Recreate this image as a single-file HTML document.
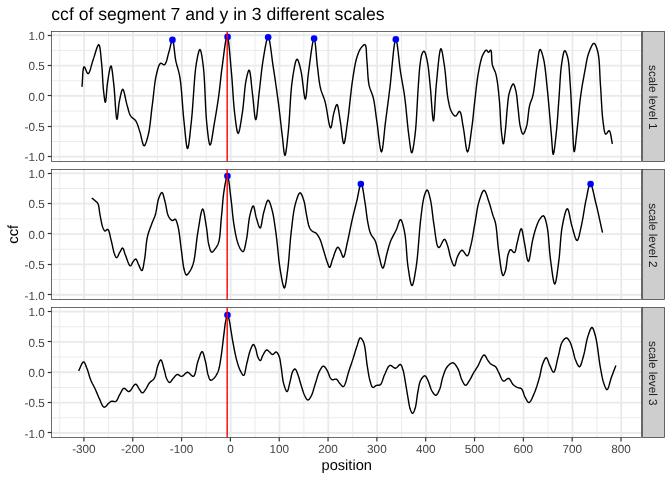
<!DOCTYPE html><html><head><meta charset="utf-8"><style>html,body{margin:0;padding:0;background:#fff}svg{display:block;will-change:transform}text{font-family:"Liberation Sans",sans-serif;text-rendering:geometricPrecision}</style></head><body>
<svg width="672" height="480" viewBox="0 0 672 480">
<rect width="672" height="480" fill="#fff"/>
<line x1="51.4" x2="642.1" y1="141.48" y2="141.48" stroke="#EBEBEB" stroke-width="1.0"/>
<line x1="51.4" x2="642.1" y1="111.12" y2="111.12" stroke="#EBEBEB" stroke-width="1.0"/>
<line x1="51.4" x2="642.1" y1="80.78" y2="80.78" stroke="#EBEBEB" stroke-width="1.0"/>
<line x1="51.4" x2="642.1" y1="50.42" y2="50.42" stroke="#EBEBEB" stroke-width="1.0"/>
<line x1="59.76" x2="59.76" y1="31.4" y2="161.3" stroke="#EBEBEB" stroke-width="1.0"/>
<line x1="108.58" x2="108.58" y1="31.4" y2="161.3" stroke="#EBEBEB" stroke-width="1.0"/>
<line x1="157.41" x2="157.41" y1="31.4" y2="161.3" stroke="#EBEBEB" stroke-width="1.0"/>
<line x1="206.24" x2="206.24" y1="31.4" y2="161.3" stroke="#EBEBEB" stroke-width="1.0"/>
<line x1="255.06" x2="255.06" y1="31.4" y2="161.3" stroke="#EBEBEB" stroke-width="1.0"/>
<line x1="303.89" x2="303.89" y1="31.4" y2="161.3" stroke="#EBEBEB" stroke-width="1.0"/>
<line x1="352.72" x2="352.72" y1="31.4" y2="161.3" stroke="#EBEBEB" stroke-width="1.0"/>
<line x1="401.54" x2="401.54" y1="31.4" y2="161.3" stroke="#EBEBEB" stroke-width="1.0"/>
<line x1="450.37" x2="450.37" y1="31.4" y2="161.3" stroke="#EBEBEB" stroke-width="1.0"/>
<line x1="499.20" x2="499.20" y1="31.4" y2="161.3" stroke="#EBEBEB" stroke-width="1.0"/>
<line x1="548.03" x2="548.03" y1="31.4" y2="161.3" stroke="#EBEBEB" stroke-width="1.0"/>
<line x1="596.85" x2="596.85" y1="31.4" y2="161.3" stroke="#EBEBEB" stroke-width="1.0"/>
<line x1="51.4" x2="642.1" y1="156.65" y2="156.65" stroke="#E9E9E9" stroke-width="1.8"/>
<line x1="51.4" x2="642.1" y1="126.30" y2="126.30" stroke="#E9E9E9" stroke-width="1.8"/>
<line x1="51.4" x2="642.1" y1="95.95" y2="95.95" stroke="#E9E9E9" stroke-width="1.8"/>
<line x1="51.4" x2="642.1" y1="65.60" y2="65.60" stroke="#E9E9E9" stroke-width="1.8"/>
<line x1="51.4" x2="642.1" y1="35.25" y2="35.25" stroke="#E9E9E9" stroke-width="1.8"/>
<line x1="84.17" x2="84.17" y1="31.4" y2="161.3" stroke="#E9E9E9" stroke-width="1.8"/>
<line x1="133.00" x2="133.00" y1="31.4" y2="161.3" stroke="#E9E9E9" stroke-width="1.8"/>
<line x1="181.82" x2="181.82" y1="31.4" y2="161.3" stroke="#E9E9E9" stroke-width="1.8"/>
<line x1="230.65" x2="230.65" y1="31.4" y2="161.3" stroke="#E9E9E9" stroke-width="1.8"/>
<line x1="279.48" x2="279.48" y1="31.4" y2="161.3" stroke="#E9E9E9" stroke-width="1.8"/>
<line x1="328.30" x2="328.30" y1="31.4" y2="161.3" stroke="#E9E9E9" stroke-width="1.8"/>
<line x1="377.13" x2="377.13" y1="31.4" y2="161.3" stroke="#E9E9E9" stroke-width="1.8"/>
<line x1="425.96" x2="425.96" y1="31.4" y2="161.3" stroke="#E9E9E9" stroke-width="1.8"/>
<line x1="474.78" x2="474.78" y1="31.4" y2="161.3" stroke="#E9E9E9" stroke-width="1.8"/>
<line x1="523.61" x2="523.61" y1="31.4" y2="161.3" stroke="#E9E9E9" stroke-width="1.8"/>
<line x1="572.44" x2="572.44" y1="31.4" y2="161.3" stroke="#E9E9E9" stroke-width="1.8"/>
<line x1="621.27" x2="621.27" y1="31.4" y2="161.3" stroke="#E9E9E9" stroke-width="1.8"/>
<path d="M81.95,86.90 L82.19,84.13 L82.38,80.98 L82.55,77.68 L82.74,74.46 L82.96,71.54 L83.25,69.14 L83.63,67.48 L84.15,66.80 L84.55,67.04 L85.00,67.81 L85.50,68.92 L86.01,70.21 L86.55,71.51 L87.08,72.64 L87.60,73.43 L88.10,73.70 L88.75,73.25 L89.38,72.12 L90.01,70.45 L90.63,68.42 L91.25,66.17 L91.87,63.87 L92.51,61.66 L93.15,59.70 L93.85,57.64 L94.59,55.26 L95.35,52.75 L96.11,50.30 L96.84,48.09 L97.54,46.29 L98.18,45.10 L98.75,44.70 L99.28,45.27 L99.73,46.73 L100.12,48.90 L100.46,51.57 L100.77,54.54 L101.05,57.64 L101.32,60.66 L101.60,63.40 L101.90,66.53 L102.15,69.88 L102.37,73.35 L102.56,76.87 L102.75,80.34 L102.95,83.70 L103.18,86.84 L103.45,89.70 L103.66,91.67 L103.89,93.77 L104.13,95.88 L104.37,97.87 L104.62,99.63 L104.87,101.04 L105.11,101.97 L105.35,102.30 L105.63,101.69 L105.89,100.04 L106.14,97.60 L106.39,94.62 L106.65,91.34 L106.93,88.01 L107.25,84.88 L107.60,82.20 L107.96,79.85 L108.37,77.23 L108.79,74.51 L109.24,71.89 L109.69,69.53 L110.13,67.63 L110.55,66.36 L110.95,65.90 L111.34,66.40 L111.71,67.75 L112.07,69.79 L112.42,72.34 L112.76,75.21 L113.10,78.24 L113.42,81.24 L113.75,84.05 L114.19,88.38 L114.60,93.69 L115.00,99.50 L115.38,105.34 L115.76,110.72 L116.15,115.16 L116.54,118.18 L116.95,119.30 L117.24,118.74 L117.52,117.19 L117.80,114.91 L118.08,112.13 L118.38,109.10 L118.70,106.05 L119.05,103.24 L119.45,100.90 L119.81,99.15 L120.19,97.25 L120.59,95.32 L121.01,93.47 L121.44,91.82 L121.88,90.50 L122.31,89.62 L122.75,89.30 L123.25,89.77 L123.77,91.05 L124.29,92.93 L124.82,95.24 L125.35,97.76 L125.88,100.31 L126.42,102.69 L126.95,104.70 L127.39,106.23 L127.79,107.75 L128.19,109.27 L128.59,110.74 L129.02,112.16 L129.49,113.51 L130.03,114.76 L130.65,115.90 L131.22,116.68 L131.85,117.34 L132.53,117.93 L133.23,118.48 L133.94,119.03 L134.62,119.62 L135.27,120.28 L135.85,121.05 L136.50,122.18 L137.08,123.43 L137.61,124.77 L138.09,126.18 L138.56,127.64 L139.01,129.13 L139.47,130.62 L139.95,132.10 L140.48,133.92 L141.00,136.05 L141.51,138.31 L142.02,140.54 L142.53,142.58 L143.04,144.24 L143.56,145.37 L144.10,145.80 L144.61,145.53 L145.14,144.75 L145.68,143.57 L146.23,142.06 L146.77,140.34 L147.29,138.49 L147.79,136.61 L148.25,134.80 L148.92,131.76 L149.50,128.32 L150.02,124.59 L150.50,120.64 L150.95,116.57 L151.40,112.47 L151.86,108.44 L152.35,104.55 L152.84,100.66 L153.30,96.63 L153.75,92.53 L154.20,88.46 L154.68,84.51 L155.20,80.78 L155.78,77.34 L156.45,74.30 L156.89,72.53 L157.33,70.74 L157.79,69.00 L158.26,67.38 L158.77,65.93 L159.32,64.73 L159.93,63.83 L160.60,63.30 L161.04,63.24 L161.51,63.38 L162.01,63.66 L162.52,64.01 L163.03,64.35 L163.53,64.63 L164.01,64.77 L164.45,64.70 L165.16,64.07 L165.79,62.95 L166.37,61.46 L166.90,59.70 L167.40,57.80 L167.88,55.86 L168.36,53.99 L168.85,52.30 L169.34,50.58 L169.82,48.62 L170.29,46.55 L170.75,44.53 L171.20,42.71 L171.63,41.23 L172.05,40.25 L172.45,39.90 L172.92,40.55 L173.35,42.25 L173.73,44.76 L174.11,47.83 L174.48,51.19 L174.87,54.61 L175.28,57.81 L175.75,60.55 L176.22,62.65 L176.73,64.62 L177.26,66.52 L177.81,68.41 L178.35,70.35 L178.88,72.39 L179.39,74.61 L179.85,77.05 L180.51,81.59 L181.08,86.78 L181.59,92.43 L182.06,98.35 L182.51,104.36 L182.96,110.27 L183.44,115.90 L183.95,121.05 L184.38,125.18 L184.82,129.68 L185.27,134.28 L185.72,138.67 L186.17,142.59 L186.63,145.74 L187.09,147.84 L187.55,148.60 L188.02,147.86 L188.50,145.83 L188.99,142.75 L189.48,138.91 L189.97,134.55 L190.46,129.95 L190.93,125.36 L191.40,121.05 L192.03,114.57 L192.62,107.17 L193.17,99.19 L193.73,91.00 L194.30,82.95 L194.91,75.42 L195.59,68.74 L196.35,63.30 L196.77,60.92 L197.21,58.52 L197.67,56.21 L198.14,54.08 L198.61,52.25 L199.07,50.81 L199.52,49.88 L199.95,49.55 L200.40,49.97 L200.84,51.13 L201.28,52.89 L201.70,55.11 L202.11,57.67 L202.51,60.44 L202.89,63.27 L203.25,66.05 L203.84,71.78 L204.32,78.68 L204.72,86.38 L205.09,94.50 L205.45,102.68 L205.83,110.54 L206.27,117.70 L206.80,123.80 L207.17,127.24 L207.54,130.83 L207.94,134.38 L208.34,137.70 L208.76,140.61 L209.20,142.92 L209.64,144.44 L210.10,145.00 L210.58,144.41 L211.08,142.76 L211.61,140.29 L212.14,137.24 L212.68,133.83 L213.21,130.30 L213.74,126.88 L214.25,123.80 L214.82,120.55 L215.40,117.21 L215.97,113.82 L216.53,110.36 L217.08,106.87 L217.62,103.36 L218.15,99.83 L218.65,96.30 L219.14,92.59 L219.59,88.84 L220.02,85.05 L220.43,81.25 L220.85,77.44 L221.28,73.62 L221.74,69.83 L222.25,66.05 L222.81,61.91 L223.41,57.19 L224.03,52.25 L224.68,47.42 L225.33,43.07 L225.96,39.53 L226.58,37.16 L227.15,36.30 L227.74,37.32 L228.31,40.10 L228.86,44.25 L229.39,49.35 L229.91,55.03 L230.41,60.89 L230.89,66.53 L231.35,71.55 L231.81,76.65 L232.21,81.97 L232.58,87.41 L232.93,92.86 L233.29,98.24 L233.68,103.42 L234.11,108.31 L234.60,112.80 L234.99,116.00 L235.40,119.42 L235.83,122.86 L236.27,126.12 L236.73,129.00 L237.19,131.31 L237.67,132.84 L238.15,133.40 L238.65,132.84 L239.18,131.27 L239.72,128.92 L240.28,126.00 L240.82,122.71 L241.36,119.27 L241.87,115.90 L242.35,112.80 L242.89,108.92 L243.37,104.64 L243.80,100.12 L244.22,95.54 L244.64,91.05 L245.09,86.82 L245.58,83.02 L246.15,79.80 L246.50,78.18 L246.87,76.51 L247.26,74.89 L247.65,73.39 L248.05,72.09 L248.43,71.08 L248.80,70.42 L249.15,70.20 L249.64,70.91 L250.09,72.77 L250.51,75.53 L250.91,78.91 L251.29,82.67 L251.67,86.54 L252.06,90.25 L252.45,93.55 L252.87,97.10 L253.29,101.21 L253.70,105.54 L254.10,109.80 L254.51,113.66 L254.92,116.80 L255.33,118.92 L255.75,119.70 L256.19,118.87 L256.64,116.58 L257.08,113.18 L257.53,108.98 L257.98,104.32 L258.43,99.51 L258.89,94.90 L259.35,90.80 L259.84,86.73 L260.31,82.52 L260.78,78.24 L261.26,73.94 L261.75,69.69 L262.28,65.54 L262.84,61.56 L263.45,57.80 L263.98,54.70 L264.55,51.32 L265.14,47.88 L265.75,44.59 L266.36,41.67 L266.98,39.32 L267.58,37.76 L268.15,37.20 L268.80,38.03 L269.44,40.28 L270.06,43.63 L270.67,47.77 L271.28,52.40 L271.89,57.19 L272.49,61.85 L273.10,66.05 L273.81,70.62 L274.53,75.39 L275.25,80.28 L275.96,85.24 L276.66,90.20 L277.34,95.12 L277.99,99.92 L278.60,104.55 L279.10,108.54 L279.58,112.50 L280.03,116.41 L280.46,120.26 L280.89,124.04 L281.30,127.73 L281.72,131.32 L282.15,134.80 L282.50,137.85 L282.85,141.19 L283.20,144.63 L283.54,147.92 L283.88,150.87 L284.23,153.24 L284.59,154.82 L284.95,155.40 L285.35,154.78 L285.76,153.07 L286.18,150.48 L286.61,147.23 L287.03,143.55 L287.45,139.64 L287.86,135.74 L288.25,132.05 L288.78,126.35 L289.25,119.89 L289.68,112.92 L290.11,105.72 L290.56,98.54 L291.06,91.65 L291.65,85.31 L292.35,79.80 L292.86,76.48 L293.40,73.01 L293.97,69.57 L294.57,66.35 L295.18,63.52 L295.80,61.26 L296.43,59.76 L297.05,59.20 L297.52,59.47 L298.00,60.26 L298.49,61.46 L298.98,62.99 L299.47,64.74 L299.95,66.60 L300.41,68.49 L300.85,70.30 L301.50,73.63 L302.12,77.87 L302.70,82.60 L303.26,87.42 L303.79,91.88 L304.31,95.59 L304.81,98.12 L305.30,99.05 L305.75,98.25 L306.16,96.09 L306.54,92.86 L306.91,88.88 L307.29,84.45 L307.68,79.88 L308.12,75.48 L308.60,71.55 L309.21,67.11 L309.88,61.95 L310.61,56.48 L311.35,51.09 L312.09,46.20 L312.82,42.21 L313.49,39.53 L314.10,38.55 L314.59,39.39 L315.04,41.64 L315.45,44.98 L315.84,49.07 L316.23,53.56 L316.61,58.11 L316.99,62.39 L317.40,66.05 L317.76,68.96 L318.09,71.85 L318.41,74.72 L318.73,77.55 L319.08,80.31 L319.48,83.00 L319.93,85.58 L320.45,88.05 L320.94,89.91 L321.49,91.63 L322.07,93.27 L322.68,94.86 L323.31,96.46 L323.93,98.12 L324.53,99.88 L325.10,101.80 L325.84,105.01 L326.57,108.94 L327.29,113.25 L327.99,117.57 L328.68,121.56 L329.34,124.84 L329.98,127.07 L330.60,127.90 L331.04,127.43 L331.46,126.14 L331.86,124.24 L332.24,121.94 L332.63,119.44 L333.03,116.95 L333.45,114.67 L333.90,112.80 L334.26,111.52 L334.64,110.15 L335.03,108.76 L335.43,107.45 L335.83,106.28 L336.22,105.36 L336.59,104.75 L336.95,104.55 L337.42,105.04 L337.86,106.34 L338.28,108.25 L338.68,110.61 L339.08,113.25 L339.47,115.98 L339.86,118.64 L340.25,121.05 L340.71,124.01 L341.15,127.49 L341.59,131.22 L342.03,134.92 L342.46,138.29 L342.90,141.05 L343.34,142.91 L343.80,143.60 L344.27,142.99 L344.75,141.30 L345.23,138.75 L345.72,135.58 L346.20,131.99 L346.69,128.23 L347.17,124.51 L347.65,121.05 L348.28,116.40 L348.89,111.31 L349.49,105.92 L350.09,100.39 L350.70,94.86 L351.31,89.49 L351.94,84.42 L352.60,79.80 L353.08,76.65 L353.56,73.59 L354.03,70.62 L354.51,67.77 L355.01,65.05 L355.55,62.47 L356.12,60.05 L356.75,57.80 L357.20,56.35 L357.66,54.96 L358.13,53.64 L358.62,52.39 L359.13,51.21 L359.67,50.12 L360.24,49.11 L360.85,48.20 L361.33,47.55 L361.86,46.88 L362.41,46.23 L362.98,45.63 L363.53,45.13 L364.06,44.77 L364.54,44.58 L364.95,44.60 L365.50,45.23 L365.89,46.54 L366.16,48.38 L366.34,50.61 L366.46,53.08 L366.57,55.66 L366.71,58.20 L366.90,60.55 L367.16,63.44 L367.37,66.56 L367.56,69.82 L367.76,73.14 L367.99,76.43 L368.27,79.61 L368.63,82.59 L369.10,85.30 L369.52,87.04 L370.02,88.63 L370.56,90.11 L371.12,91.53 L371.69,92.94 L372.25,94.41 L372.78,95.98 L373.25,97.70 L373.80,100.23 L374.29,102.92 L374.73,105.75 L375.14,108.69 L375.54,111.72 L375.93,114.80 L376.35,117.92 L376.80,121.05 L377.36,125.12 L377.93,129.91 L378.52,135.02 L379.12,140.07 L379.72,144.67 L380.31,148.43 L380.89,150.97 L381.45,151.90 L381.99,151.00 L382.52,148.54 L383.04,144.89 L383.56,140.39 L384.07,135.40 L384.58,130.27 L385.09,125.37 L385.60,121.05 L386.13,117.05 L386.65,113.09 L387.17,109.13 L387.69,105.15 L388.22,101.11 L388.75,96.97 L389.29,92.71 L389.85,88.30 L390.56,81.99 L391.28,74.47 L392.03,66.39 L392.79,58.36 L393.55,51.01 L394.31,44.99 L395.06,40.91 L395.80,39.40 L396.39,40.37 L396.97,43.01 L397.55,46.93 L398.13,51.72 L398.71,56.97 L399.29,62.30 L399.87,67.29 L400.45,71.55 L400.97,74.76 L401.50,77.84 L402.03,80.83 L402.57,83.78 L403.09,86.76 L403.61,89.80 L404.12,92.96 L404.60,96.30 L405.17,100.80 L405.71,105.66 L406.23,110.75 L406.73,115.93 L407.22,121.06 L407.72,126.00 L408.23,130.63 L408.75,134.80 L409.12,137.61 L409.48,140.60 L409.85,143.59 L410.22,146.41 L410.60,148.91 L410.98,150.90 L411.36,152.22 L411.75,152.70 L412.16,152.24 L412.58,150.96 L413.01,149.01 L413.44,146.56 L413.87,143.76 L414.29,140.76 L414.68,137.72 L415.05,134.80 L415.60,129.66 L416.08,123.69 L416.51,117.16 L416.91,110.33 L417.28,103.46 L417.64,96.83 L417.99,90.68 L418.35,85.30 L418.58,82.14 L418.79,79.12 L418.99,76.25 L419.18,73.51 L419.39,70.91 L419.61,68.42 L419.86,66.06 L420.15,63.80 L420.37,62.25 L420.58,60.71 L420.80,59.21 L421.03,57.78 L421.29,56.45 L421.57,55.24 L421.89,54.18 L422.25,53.30 L422.46,52.90 L422.68,52.50 L422.91,52.13 L423.15,51.80 L423.39,51.53 L423.64,51.33 L423.87,51.21 L424.10,51.20 L424.51,51.51 L424.92,52.21 L425.32,53.23 L425.72,54.49 L426.10,55.93 L426.46,57.47 L426.82,59.03 L427.15,60.55 L427.64,63.03 L428.07,65.78 L428.45,68.74 L428.81,71.88 L429.14,75.15 L429.47,78.51 L429.80,81.90 L430.15,85.30 L430.58,89.94 L431.01,95.45 L431.43,101.37 L431.85,107.23 L432.26,112.59 L432.67,116.99 L433.06,119.96 L433.45,121.05 L433.81,120.00 L434.14,117.14 L434.46,112.89 L434.77,107.66 L435.09,101.87 L435.44,95.94 L435.82,90.27 L436.25,85.30 L436.74,80.24 L437.27,74.47 L437.84,68.40 L438.43,62.47 L439.04,57.11 L439.66,52.74 L440.28,49.79 L440.90,48.70 L441.34,49.16 L441.79,50.45 L442.25,52.40 L442.71,54.83 L443.16,57.59 L443.61,60.49 L444.04,63.37 L444.45,66.05 L444.96,69.77 L445.40,73.93 L445.81,78.35 L446.21,82.89 L446.61,87.39 L447.04,91.69 L447.51,95.63 L448.05,99.05 L448.40,100.94 L448.75,102.73 L449.09,104.43 L449.46,106.03 L449.86,107.53 L450.29,108.92 L450.79,110.22 L451.35,111.40 L451.79,112.21 L452.27,113.02 L452.78,113.81 L453.31,114.54 L453.84,115.17 L454.39,115.66 L454.93,115.98 L455.45,116.10 L455.98,115.89 L456.52,115.33 L457.07,114.54 L457.61,113.64 L458.15,112.76 L458.67,112.01 L459.15,111.52 L459.60,111.40 L460.22,111.95 L460.75,113.15 L461.20,114.88 L461.61,117.00 L461.99,119.36 L462.36,121.84 L462.74,124.28 L463.15,126.55 L463.71,129.75 L464.26,133.61 L464.81,137.80 L465.36,141.98 L465.91,145.82 L466.45,148.97 L467.00,151.11 L467.55,151.90 L468.11,151.16 L468.69,149.14 L469.27,146.13 L469.85,142.43 L470.41,138.32 L470.96,134.11 L471.47,130.09 L471.95,126.55 L472.38,123.30 L472.77,120.05 L473.12,116.80 L473.46,113.53 L473.78,110.25 L474.12,106.96 L474.47,103.64 L474.85,100.30 L475.27,96.71 L475.69,93.01 L476.12,89.25 L476.56,85.49 L477.02,81.79 L477.51,78.19 L478.04,74.76 L478.60,71.55 L479.05,69.19 L479.51,66.85 L479.97,64.56 L480.46,62.36 L480.98,60.27 L481.52,58.34 L482.11,56.59 L482.75,55.05 L483.16,54.19 L483.61,53.33 L484.07,52.51 L484.54,51.75 L485.01,51.10 L485.48,50.59 L485.93,50.24 L486.35,50.10 L486.63,50.18 L486.91,50.42 L487.18,50.77 L487.44,51.18 L487.71,51.59 L487.97,51.95 L488.23,52.20 L488.50,52.30 L488.78,52.20 L489.07,51.93 L489.36,51.55 L489.65,51.13 L489.94,50.71 L490.21,50.36 L490.47,50.14 L490.70,50.10 L491.09,50.68 L491.35,51.96 L491.51,53.78 L491.61,55.95 L491.71,58.31 L491.83,60.67 L492.03,62.86 L492.35,64.70 L492.71,65.98 L493.13,67.15 L493.60,68.26 L494.10,69.34 L494.60,70.45 L495.08,71.61 L495.54,72.88 L495.95,74.30 L496.51,76.80 L497.00,79.56 L497.45,82.55 L497.86,85.70 L498.23,88.98 L498.58,92.33 L498.92,95.70 L499.25,99.05 L499.60,103.06 L499.89,107.35 L500.15,111.81 L500.38,116.30 L500.61,120.69 L500.86,124.87 L501.13,128.69 L501.45,132.05 L501.67,133.97 L501.89,135.96 L502.13,137.93 L502.37,139.77 L502.62,141.38 L502.86,142.66 L503.11,143.50 L503.35,143.80 L503.62,143.40 L503.89,142.29 L504.16,140.63 L504.43,138.57 L504.70,136.27 L504.96,133.87 L505.21,131.53 L505.45,129.40 L505.71,126.95 L505.94,124.36 L506.15,121.68 L506.36,118.96 L506.56,116.22 L506.77,113.53 L507.00,110.90 L507.25,108.40 L507.47,106.29 L507.66,104.19 L507.86,102.12 L508.06,100.09 L508.30,98.12 L508.58,96.22 L508.93,94.40 L509.35,92.70 L509.75,91.35 L510.21,89.90 L510.71,88.44 L511.24,87.06 L511.77,85.84 L512.30,84.86 L512.79,84.22 L513.25,84.00 L513.63,84.20 L514.00,84.73 L514.37,85.54 L514.71,86.54 L515.05,87.68 L515.37,88.90 L515.67,90.13 L515.95,91.30 L516.32,93.08 L516.63,95.04 L516.90,97.14 L517.14,99.34 L517.35,101.61 L517.57,103.91 L517.80,106.18 L518.05,108.40 L518.32,110.73 L518.57,113.16 L518.81,115.63 L519.06,118.10 L519.32,120.50 L519.62,122.79 L519.96,124.91 L520.35,126.80 L520.63,127.98 L520.93,129.22 L521.24,130.43 L521.57,131.57 L521.91,132.57 L522.27,133.37 L522.63,133.90 L523.00,134.10 L523.40,133.93 L523.84,133.42 L524.29,132.64 L524.75,131.65 L525.21,130.51 L525.65,129.28 L526.07,128.02 L526.45,126.80 L526.97,124.67 L527.40,122.17 L527.76,119.43 L528.08,116.54 L528.39,113.63 L528.72,110.79 L529.09,108.14 L529.55,105.80 L529.93,104.34 L530.35,103.03 L530.78,101.82 L531.23,100.65 L531.68,99.47 L532.13,98.22 L532.55,96.85 L532.95,95.30 L533.54,92.34 L534.08,88.92 L534.59,85.20 L535.07,81.28 L535.53,77.32 L535.99,73.43 L536.46,69.74 L536.95,66.40 L537.33,63.83 L537.69,61.05 L538.04,58.23 L538.40,55.53 L538.77,53.14 L539.16,51.20 L539.58,49.90 L540.05,49.40 L540.44,49.60 L540.86,50.22 L541.30,51.18 L541.75,52.41 L542.20,53.83 L542.64,55.37 L543.06,56.95 L543.45,58.50 L544.08,61.47 L544.65,64.88 L545.16,68.65 L545.64,72.69 L546.09,76.93 L546.52,81.28 L546.95,85.66 L547.40,90.00 L547.94,95.33 L548.47,101.05 L549.00,106.98 L549.51,112.99 L550.00,118.92 L550.47,124.62 L550.92,129.93 L551.35,134.70 L551.61,137.80 L551.84,141.08 L552.06,144.35 L552.28,147.44 L552.49,150.16 L552.72,152.34 L552.97,153.78 L553.25,154.30 L553.59,153.68 L553.97,151.98 L554.37,149.42 L554.78,146.24 L555.20,142.68 L555.61,138.96 L556.00,135.32 L556.35,132.00 L556.74,128.09 L557.10,123.99 L557.44,119.75 L557.76,115.41 L558.06,111.01 L558.37,106.60 L558.68,102.21 L559.00,97.90 L559.31,93.53 L559.60,88.99 L559.87,84.40 L560.15,79.83 L560.45,75.40 L560.79,71.18 L561.18,67.29 L561.65,63.80 L561.98,61.68 L562.32,59.48 L562.69,57.30 L563.07,55.26 L563.46,53.46 L563.88,52.03 L564.31,51.07 L564.75,50.70 L565.09,50.83 L565.46,51.26 L565.84,51.93 L566.23,52.79 L566.62,53.80 L566.99,54.90 L567.33,56.05 L567.65,57.20 L568.18,59.68 L568.61,62.61 L568.96,65.90 L569.26,69.47 L569.51,73.23 L569.75,77.09 L569.99,80.98 L570.25,84.80 L570.56,89.44 L570.85,94.32 L571.11,99.37 L571.36,104.50 L571.60,109.63 L571.84,114.68 L572.09,119.57 L572.35,124.20 L572.57,128.25 L572.79,132.71 L573.00,137.28 L573.21,141.69 L573.44,145.62 L573.68,148.80 L573.95,150.92 L574.25,151.70 L574.53,151.17 L574.83,149.70 L575.15,147.48 L575.48,144.70 L575.82,141.57 L576.16,138.28 L576.51,135.03 L576.85,132.00 L577.31,127.90 L577.77,123.43 L578.23,118.71 L578.70,113.85 L579.18,108.96 L579.68,104.17 L580.20,99.57 L580.75,95.30 L581.21,92.08 L581.69,88.96 L582.18,85.93 L582.68,82.98 L583.19,80.10 L583.70,77.26 L584.22,74.47 L584.75,71.70 L585.20,69.24 L585.62,66.79 L586.04,64.35 L586.47,61.96 L586.93,59.64 L587.43,57.41 L588.00,55.29 L588.65,53.30 L589.22,51.73 L589.86,50.06 L590.54,48.38 L591.24,46.80 L591.96,45.40 L592.66,44.28 L593.33,43.55 L593.95,43.30 L594.49,43.53 L595.03,44.12 L595.56,45.03 L596.07,46.19 L596.56,47.53 L597.02,48.98 L597.45,50.50 L597.85,52.00 L598.46,55.05 L598.93,58.64 L599.27,62.63 L599.54,66.93 L599.75,71.41 L599.95,75.96 L600.17,80.46 L600.45,84.80 L600.77,89.42 L601.05,94.28 L601.33,99.26 L601.61,104.23 L601.90,109.06 L602.23,113.64 L602.61,117.82 L603.05,121.50 L603.32,123.55 L603.58,125.66 L603.84,127.71 L604.12,129.63 L604.44,131.32 L604.80,132.69 L605.24,133.65 L605.75,134.10 L606.12,134.02 L606.53,133.65 L606.98,133.07 L607.44,132.40 L607.90,131.73 L608.35,131.16 L608.77,130.78 L609.15,130.70 L609.70,131.21 L610.17,132.32 L610.58,133.89 L610.95,135.78 L611.29,137.85 L611.62,139.97 L611.97,142.00 L612.35,143.80" fill="none" stroke="#000" stroke-width="1.42" stroke-linejoin="round" stroke-linecap="butt"/>
<circle cx="172.45" cy="39.90" r="3.3" fill="#0000FF"/>
<circle cx="227.55" cy="36.90" r="3.3" fill="#0000FF"/>
<circle cx="268.15" cy="37.20" r="3.3" fill="#0000FF"/>
<circle cx="314.10" cy="38.55" r="3.3" fill="#0000FF"/>
<circle cx="395.80" cy="39.40" r="3.3" fill="#0000FF"/>
<line x1="227.18" x2="227.18" y1="31.4" y2="161.3" stroke="#FF0000" stroke-width="1.42"/>
<rect x="51.5" y="31.5" width="590" height="130" fill="none" stroke="#333333" stroke-width="0.72"/>
<rect x="642.5" y="31.5" width="22" height="130" fill="#CECECE" stroke="#333333" stroke-width="0.72"/>
<text x="0" y="0" transform="translate(649.0,97.35) rotate(90)" text-anchor="middle" font-size="11.73" fill="#1A1A1A">scale level 1</text>
<line x1="47.73" x2="51.5" y1="156.50" y2="156.50" stroke="#333333" stroke-width="1.2"/>
<text x="44.80" y="161.40" text-anchor="end" font-size="11.73" fill="#454545">-1.0</text>
<line x1="47.73" x2="51.5" y1="126.50" y2="126.50" stroke="#333333" stroke-width="1.2"/>
<text x="44.80" y="131.05" text-anchor="end" font-size="11.73" fill="#454545">-0.5</text>
<line x1="47.73" x2="51.5" y1="95.50" y2="95.50" stroke="#333333" stroke-width="1.2"/>
<text x="44.80" y="100.70" text-anchor="end" font-size="11.73" fill="#454545">0.0</text>
<line x1="47.73" x2="51.5" y1="65.50" y2="65.50" stroke="#333333" stroke-width="1.2"/>
<text x="44.80" y="70.35" text-anchor="end" font-size="11.73" fill="#454545">0.5</text>
<line x1="47.73" x2="51.5" y1="35.50" y2="35.50" stroke="#333333" stroke-width="1.2"/>
<text x="44.80" y="40.00" text-anchor="end" font-size="11.73" fill="#454545">1.0</text>
<line x1="51.4" x2="642.1" y1="279.58" y2="279.58" stroke="#EBEBEB" stroke-width="1.0"/>
<line x1="51.4" x2="642.1" y1="249.23" y2="249.23" stroke="#EBEBEB" stroke-width="1.0"/>
<line x1="51.4" x2="642.1" y1="218.88" y2="218.88" stroke="#EBEBEB" stroke-width="1.0"/>
<line x1="51.4" x2="642.1" y1="188.53" y2="188.53" stroke="#EBEBEB" stroke-width="1.0"/>
<line x1="59.76" x2="59.76" y1="169.4" y2="299.4" stroke="#EBEBEB" stroke-width="1.0"/>
<line x1="108.58" x2="108.58" y1="169.4" y2="299.4" stroke="#EBEBEB" stroke-width="1.0"/>
<line x1="157.41" x2="157.41" y1="169.4" y2="299.4" stroke="#EBEBEB" stroke-width="1.0"/>
<line x1="206.24" x2="206.24" y1="169.4" y2="299.4" stroke="#EBEBEB" stroke-width="1.0"/>
<line x1="255.06" x2="255.06" y1="169.4" y2="299.4" stroke="#EBEBEB" stroke-width="1.0"/>
<line x1="303.89" x2="303.89" y1="169.4" y2="299.4" stroke="#EBEBEB" stroke-width="1.0"/>
<line x1="352.72" x2="352.72" y1="169.4" y2="299.4" stroke="#EBEBEB" stroke-width="1.0"/>
<line x1="401.54" x2="401.54" y1="169.4" y2="299.4" stroke="#EBEBEB" stroke-width="1.0"/>
<line x1="450.37" x2="450.37" y1="169.4" y2="299.4" stroke="#EBEBEB" stroke-width="1.0"/>
<line x1="499.20" x2="499.20" y1="169.4" y2="299.4" stroke="#EBEBEB" stroke-width="1.0"/>
<line x1="548.03" x2="548.03" y1="169.4" y2="299.4" stroke="#EBEBEB" stroke-width="1.0"/>
<line x1="596.85" x2="596.85" y1="169.4" y2="299.4" stroke="#EBEBEB" stroke-width="1.0"/>
<line x1="51.4" x2="642.1" y1="294.75" y2="294.75" stroke="#E9E9E9" stroke-width="1.8"/>
<line x1="51.4" x2="642.1" y1="264.40" y2="264.40" stroke="#E9E9E9" stroke-width="1.8"/>
<line x1="51.4" x2="642.1" y1="234.05" y2="234.05" stroke="#E9E9E9" stroke-width="1.8"/>
<line x1="51.4" x2="642.1" y1="203.70" y2="203.70" stroke="#E9E9E9" stroke-width="1.8"/>
<line x1="51.4" x2="642.1" y1="173.35" y2="173.35" stroke="#E9E9E9" stroke-width="1.8"/>
<line x1="84.17" x2="84.17" y1="169.4" y2="299.4" stroke="#E9E9E9" stroke-width="1.8"/>
<line x1="133.00" x2="133.00" y1="169.4" y2="299.4" stroke="#E9E9E9" stroke-width="1.8"/>
<line x1="181.82" x2="181.82" y1="169.4" y2="299.4" stroke="#E9E9E9" stroke-width="1.8"/>
<line x1="230.65" x2="230.65" y1="169.4" y2="299.4" stroke="#E9E9E9" stroke-width="1.8"/>
<line x1="279.48" x2="279.48" y1="169.4" y2="299.4" stroke="#E9E9E9" stroke-width="1.8"/>
<line x1="328.30" x2="328.30" y1="169.4" y2="299.4" stroke="#E9E9E9" stroke-width="1.8"/>
<line x1="377.13" x2="377.13" y1="169.4" y2="299.4" stroke="#E9E9E9" stroke-width="1.8"/>
<line x1="425.96" x2="425.96" y1="169.4" y2="299.4" stroke="#E9E9E9" stroke-width="1.8"/>
<line x1="474.78" x2="474.78" y1="169.4" y2="299.4" stroke="#E9E9E9" stroke-width="1.8"/>
<line x1="523.61" x2="523.61" y1="169.4" y2="299.4" stroke="#E9E9E9" stroke-width="1.8"/>
<line x1="572.44" x2="572.44" y1="169.4" y2="299.4" stroke="#E9E9E9" stroke-width="1.8"/>
<line x1="621.27" x2="621.27" y1="169.4" y2="299.4" stroke="#E9E9E9" stroke-width="1.8"/>
<path d="M91.80,198.00 L92.22,198.34 L92.63,198.68 L93.06,199.02 L93.48,199.37 L93.89,199.71 L94.30,200.05 L94.71,200.40 L95.10,200.75 L95.47,201.07 L95.84,201.36 L96.21,201.65 L96.57,201.94 L96.91,202.25 L97.25,202.61 L97.56,203.02 L97.85,203.50 L98.28,204.53 L98.62,205.78 L98.90,207.19 L99.13,208.72 L99.34,210.32 L99.55,211.94 L99.78,213.53 L100.05,215.05 L100.36,216.63 L100.67,218.29 L100.99,219.99 L101.31,221.69 L101.65,223.32 L102.01,224.85 L102.39,226.22 L102.80,227.40 L103.05,228.01 L103.29,228.62 L103.55,229.20 L103.81,229.73 L104.08,230.19 L104.37,230.57 L104.67,230.85 L105.00,231.00 L105.31,230.97 L105.65,230.78 L106.00,230.48 L106.37,230.13 L106.73,229.79 L107.09,229.51 L107.43,229.34 L107.75,229.35 L108.28,229.81 L108.75,230.69 L109.17,231.92 L109.57,233.38 L109.94,235.00 L110.31,236.67 L110.67,238.30 L111.05,239.80 L111.48,241.48 L111.89,243.29 L112.29,245.18 L112.69,247.07 L113.09,248.91 L113.49,250.65 L113.91,252.22 L114.35,253.55 L114.61,254.26 L114.87,254.97 L115.13,255.67 L115.40,256.31 L115.67,256.86 L115.95,257.30 L116.25,257.59 L116.55,257.70 L116.93,257.54 L117.32,257.09 L117.74,256.42 L118.16,255.59 L118.59,254.69 L119.02,253.78 L119.44,252.92 L119.85,252.20 L120.20,251.59 L120.56,250.91 L120.91,250.21 L121.26,249.53 L121.61,248.93 L121.95,248.45 L122.28,248.14 L122.60,248.05 L122.97,248.27 L123.31,248.81 L123.64,249.59 L123.95,250.56 L124.28,251.64 L124.61,252.77 L124.96,253.88 L125.35,254.90 L125.90,256.30 L126.49,257.97 L127.12,259.77 L127.77,261.57 L128.43,263.22 L129.08,264.58 L129.71,265.52 L130.30,265.90 L130.66,265.80 L131.00,265.46 L131.34,264.95 L131.67,264.33 L132.01,263.64 L132.34,262.95 L132.69,262.32 L133.05,261.80 L133.38,261.37 L133.73,260.91 L134.08,260.43 L134.44,259.98 L134.79,259.58 L135.14,259.27 L135.48,259.09 L135.80,259.05 L136.18,259.26 L136.53,259.72 L136.87,260.37 L137.20,261.16 L137.53,262.03 L137.86,262.93 L138.19,263.78 L138.55,264.55 L138.95,265.38 L139.37,266.35 L139.80,267.37 L140.24,268.36 L140.67,269.26 L141.09,269.99 L141.48,270.46 L141.85,270.60 L142.28,270.24 L142.68,269.36 L143.04,268.06 L143.38,266.45 L143.69,264.64 L144.00,262.73 L144.30,260.83 L144.60,259.05 L144.98,256.60 L145.30,253.90 L145.59,251.03 L145.86,248.08 L146.15,245.13 L146.48,242.25 L146.87,239.53 L147.35,237.05 L147.78,235.31 L148.25,233.66 L148.75,232.08 L149.28,230.56 L149.82,229.07 L150.37,227.61 L150.91,226.16 L151.45,224.70 L151.95,223.37 L152.46,222.09 L152.99,220.84 L153.51,219.59 L154.03,218.34 L154.53,217.05 L155.01,215.71 L155.45,214.30 L155.92,212.45 L156.32,210.43 L156.68,208.31 L157.02,206.16 L157.36,204.04 L157.73,202.02 L158.16,200.17 L158.65,198.55 L159.02,197.55 L159.42,196.50 L159.85,195.48 L160.28,194.53 L160.72,193.70 L161.15,193.05 L161.56,192.63 L161.95,192.50 L162.37,192.77 L162.77,193.44 L163.15,194.44 L163.52,195.68 L163.88,197.07 L164.23,198.52 L164.59,199.96 L164.95,201.30 L165.39,203.06 L165.79,205.02 L166.17,207.11 L166.55,209.23 L166.96,211.30 L167.41,213.25 L167.94,214.97 L168.55,216.40 L168.97,217.14 L169.43,217.86 L169.91,218.53 L170.40,219.14 L170.91,219.66 L171.42,220.09 L171.92,220.39 L172.40,220.55 L172.75,220.53 L173.11,220.37 L173.47,220.12 L173.83,219.83 L174.18,219.54 L174.52,219.31 L174.84,219.18 L175.15,219.20 L175.59,219.50 L175.98,220.04 L176.34,220.77 L176.68,221.65 L176.99,222.66 L177.30,223.76 L177.60,224.90 L177.90,226.05 L178.44,228.41 L178.93,231.20 L179.39,234.32 L179.82,237.64 L180.23,241.05 L180.64,244.46 L181.04,247.75 L181.45,250.80 L181.80,253.41 L182.13,256.09 L182.44,258.76 L182.76,261.38 L183.08,263.88 L183.43,266.20 L183.82,268.28 L184.25,270.05 L184.49,270.90 L184.73,271.75 L184.98,272.56 L185.24,273.31 L185.51,273.96 L185.80,274.48 L186.11,274.83 L186.45,275.00 L186.81,274.95 L187.20,274.72 L187.63,274.33 L188.06,273.84 L188.50,273.26 L188.94,272.64 L189.36,272.01 L189.75,271.40 L190.25,270.60 L190.74,269.76 L191.21,268.87 L191.66,267.91 L192.10,266.88 L192.53,265.76 L192.95,264.53 L193.35,263.20 L194.06,260.22 L194.68,256.64 L195.24,252.64 L195.77,248.35 L196.28,243.94 L196.80,239.57 L197.35,235.39 L197.95,231.55 L198.51,228.23 L199.09,224.58 L199.69,220.82 L200.29,217.21 L200.90,213.98 L201.50,211.37 L202.09,209.63 L202.65,209.00 L203.13,209.49 L203.61,210.84 L204.08,212.85 L204.54,215.32 L204.99,218.07 L205.43,220.91 L205.85,223.63 L206.25,226.05 L206.63,228.46 L206.95,231.01 L207.25,233.62 L207.53,236.22 L207.82,238.76 L208.14,241.16 L208.51,243.36 L208.95,245.30 L209.25,246.43 L209.55,247.58 L209.86,248.71 L210.19,249.76 L210.54,250.69 L210.91,251.43 L211.31,251.95 L211.75,252.20 L212.14,252.16 L212.57,251.92 L213.03,251.53 L213.50,251.02 L213.97,250.43 L214.43,249.80 L214.88,249.18 L215.30,248.60 L215.76,247.97 L216.22,247.34 L216.66,246.69 L217.09,246.00 L217.50,245.26 L217.89,244.45 L218.25,243.55 L218.60,242.55 L219.17,240.30 L219.62,237.61 L219.98,234.60 L220.27,231.34 L220.53,227.94 L220.78,224.49 L221.04,221.08 L221.35,217.80 L221.69,214.37 L222.00,210.81 L222.30,207.19 L222.61,203.57 L222.92,200.01 L223.27,196.57 L223.66,193.31 L224.10,190.30 L224.46,188.08 L224.86,185.71 L225.28,183.32 L225.71,181.05 L226.14,179.04 L226.58,177.44 L227.00,176.38 L227.40,176.00 L227.88,176.67 L228.35,178.46 L228.81,181.12 L229.27,184.40 L229.71,188.04 L230.14,191.78 L230.55,195.37 L230.95,198.55 L231.33,201.61 L231.68,204.75 L232.00,207.92 L232.32,211.11 L232.63,214.27 L232.97,217.37 L233.34,220.40 L233.75,223.30 L234.13,225.73 L234.53,228.16 L234.94,230.56 L235.36,232.90 L235.81,235.16 L236.28,237.31 L236.78,239.33 L237.30,241.20 L237.68,242.42 L238.07,243.60 L238.47,244.73 L238.88,245.81 L239.31,246.81 L239.74,247.74 L240.19,248.57 L240.65,249.30 L240.95,249.73 L241.25,250.16 L241.57,250.57 L241.89,250.94 L242.20,251.26 L242.52,251.48 L242.82,251.61 L243.10,251.60 L243.60,251.17 L244.07,250.25 L244.50,248.93 L244.91,247.31 L245.29,245.49 L245.66,243.57 L246.03,241.64 L246.40,239.80 L246.89,237.06 L247.33,233.97 L247.74,230.65 L248.12,227.22 L248.52,223.82 L248.94,220.57 L249.41,217.61 L249.95,215.05 L250.33,213.56 L250.73,212.02 L251.15,210.49 L251.58,209.07 L252.02,207.83 L252.44,206.86 L252.86,206.22 L253.25,206.00 L253.66,206.37 L254.04,207.34 L254.40,208.77 L254.75,210.51 L255.11,212.43 L255.48,214.38 L255.87,216.22 L256.30,217.80 L256.74,219.26 L257.22,220.90 L257.71,222.61 L258.22,224.26 L258.72,225.74 L259.22,226.94 L259.70,227.73 L260.15,228.00 L260.65,227.50 L261.10,226.19 L261.53,224.27 L261.94,221.93 L262.35,219.37 L262.78,216.79 L263.24,214.36 L263.75,212.30 L264.25,210.54 L264.77,208.58 L265.32,206.57 L265.89,204.63 L266.46,202.90 L267.03,201.49 L267.60,200.55 L268.15,200.20 L268.64,200.43 L269.13,201.10 L269.62,202.11 L270.11,203.39 L270.60,204.85 L271.07,206.42 L271.52,208.02 L271.95,209.55 L272.58,212.03 L273.16,214.77 L273.70,217.73 L274.20,220.87 L274.69,224.14 L275.16,227.50 L275.63,230.90 L276.10,234.30 L276.65,238.54 L277.16,243.06 L277.64,247.77 L278.11,252.54 L278.60,257.27 L279.10,261.84 L279.65,266.13 L280.25,270.05 L280.72,272.83 L281.23,275.80 L281.75,278.79 L282.29,281.61 L282.83,284.11 L283.36,286.11 L283.87,287.43 L284.35,287.90 L284.80,287.42 L285.25,286.10 L285.67,284.11 L286.09,281.63 L286.50,278.81 L286.89,275.83 L287.28,272.86 L287.65,270.05 L288.16,265.90 L288.62,261.31 L289.05,256.41 L289.46,251.31 L289.87,246.16 L290.29,241.06 L290.75,236.15 L291.25,231.55 L291.69,227.80 L292.12,224.05 L292.56,220.34 L293.01,216.71 L293.51,213.23 L294.05,209.93 L294.66,206.85 L295.35,204.05 L295.86,202.23 L296.42,200.33 L297.01,198.45 L297.62,196.69 L298.24,195.15 L298.86,193.92 L299.46,193.11 L300.05,192.80 L300.53,192.99 L301.02,193.53 L301.51,194.36 L302.00,195.41 L302.47,196.59 L302.92,197.85 L303.35,199.11 L303.75,200.30 L304.22,201.92 L304.63,203.69 L304.99,205.59 L305.31,207.55 L305.62,209.55 L305.92,211.53 L306.25,213.46 L306.60,215.30 L306.93,216.94 L307.24,218.62 L307.55,220.31 L307.87,221.96 L308.21,223.54 L308.58,225.02 L308.99,226.35 L309.45,227.50 L309.75,228.11 L310.07,228.66 L310.39,229.17 L310.73,229.63 L311.08,230.06 L311.45,230.46 L311.84,230.84 L312.25,231.20 L312.67,231.50 L313.12,231.73 L313.59,231.93 L314.08,232.11 L314.56,232.30 L315.05,232.51 L315.51,232.77 L315.95,233.10 L316.48,233.61 L316.99,234.19 L317.49,234.83 L317.97,235.52 L318.43,236.26 L318.89,237.04 L319.32,237.86 L319.75,238.70 L320.29,239.90 L320.78,241.20 L321.25,242.59 L321.70,244.04 L322.13,245.53 L322.56,247.04 L323.00,248.54 L323.45,250.00 L323.93,251.54 L324.41,253.14 L324.89,254.77 L325.37,256.40 L325.85,257.99 L326.32,259.51 L326.79,260.93 L327.25,262.20 L327.56,263.04 L327.86,263.92 L328.16,264.79 L328.45,265.61 L328.75,266.33 L329.05,266.90 L329.35,267.27 L329.65,267.40 L330.04,267.13 L330.42,266.42 L330.80,265.36 L331.18,264.06 L331.57,262.62 L331.97,261.12 L332.40,259.69 L332.85,258.40 L333.40,256.91 L333.99,255.18 L334.62,253.34 L335.25,251.54 L335.90,249.89 L336.54,248.53 L337.16,247.59 L337.75,247.20 L338.09,247.26 L338.42,247.49 L338.75,247.87 L339.08,248.34 L339.40,248.89 L339.72,249.47 L340.04,250.05 L340.35,250.60 L340.75,251.40 L341.14,252.40 L341.52,253.50 L341.89,254.60 L342.26,255.62 L342.62,256.45 L342.99,257.01 L343.35,257.20 L343.87,256.76 L344.38,255.62 L344.89,253.93 L345.38,251.84 L345.88,249.50 L346.37,247.07 L346.86,244.68 L347.35,242.50 L347.94,239.94 L348.53,237.23 L349.11,234.43 L349.69,231.57 L350.27,228.69 L350.86,225.82 L351.45,223.01 L352.05,220.30 L352.61,217.88 L353.18,215.50 L353.76,213.15 L354.33,210.82 L354.91,208.51 L355.49,206.21 L356.07,203.91 L356.65,201.60 L357.22,199.10 L357.79,196.25 L358.37,193.28 L358.95,190.38 L359.52,187.76 L360.08,185.64 L360.63,184.21 L361.15,183.70 L361.66,184.22 L362.15,185.63 L362.63,187.74 L363.10,190.33 L363.56,193.21 L364.01,196.18 L364.43,199.05 L364.85,201.60 L365.27,204.19 L365.65,206.89 L366.01,209.65 L366.35,212.42 L366.70,215.15 L367.06,217.79 L367.44,220.29 L367.85,222.60 L368.16,224.17 L368.45,225.67 L368.75,227.10 L369.05,228.49 L369.39,229.82 L369.75,231.11 L370.17,232.37 L370.65,233.60 L371.15,234.64 L371.72,235.59 L372.34,236.50 L372.98,237.39 L373.62,238.28 L374.25,239.21 L374.83,240.21 L375.35,241.30 L375.91,242.83 L376.40,244.48 L376.83,246.23 L377.23,248.05 L377.61,249.89 L377.99,251.74 L378.40,253.55 L378.85,255.30 L379.32,257.11 L379.81,259.15 L380.31,261.28 L380.82,263.35 L381.33,265.21 L381.84,266.72 L382.35,267.74 L382.85,268.10 L383.38,267.64 L383.91,266.39 L384.45,264.55 L384.97,262.31 L385.50,259.84 L386.02,257.34 L386.54,255.00 L387.05,253.00 L387.48,251.46 L387.89,249.96 L388.29,248.48 L388.68,247.03 L389.09,245.59 L389.53,244.16 L390.01,242.73 L390.55,241.30 L391.18,239.81 L391.87,238.33 L392.62,236.85 L393.39,235.38 L394.17,233.91 L394.94,232.46 L395.67,231.02 L396.35,229.60 L396.93,228.18 L397.49,226.58 L398.02,224.91 L398.55,223.29 L399.06,221.83 L399.56,220.66 L400.06,219.87 L400.55,219.60 L401.09,219.93 L401.63,220.82 L402.16,222.16 L402.68,223.85 L403.18,225.78 L403.66,227.85 L404.12,229.96 L404.55,232.00 L405.16,235.58 L405.64,239.73 L406.05,244.28 L406.41,249.06 L406.75,253.89 L407.12,258.61 L407.54,263.04 L408.05,267.00 L408.48,269.87 L408.94,272.94 L409.42,276.05 L409.91,279.00 L410.42,281.61 L410.93,283.70 L411.44,285.09 L411.95,285.60 L412.47,285.12 L413.00,283.78 L413.55,281.76 L414.09,279.20 L414.63,276.28 L415.16,273.17 L415.67,270.02 L416.15,267.00 L416.85,261.87 L417.49,255.96 L418.07,249.50 L418.62,242.77 L419.16,236.00 L419.69,229.45 L420.25,223.36 L420.85,218.00 L421.26,214.70 L421.65,211.48 L422.04,208.38 L422.44,205.42 L422.86,202.65 L423.31,200.10 L423.80,197.81 L424.35,195.80 L424.67,194.79 L425.01,193.77 L425.36,192.79 L425.72,191.89 L426.09,191.12 L426.45,190.51 L426.80,190.13 L427.15,190.00 L427.57,190.26 L427.99,190.94 L428.41,191.95 L428.82,193.22 L429.22,194.67 L429.61,196.22 L429.99,197.79 L430.35,199.30 L430.86,201.75 L431.32,204.50 L431.74,207.47 L432.13,210.61 L432.51,213.82 L432.89,217.06 L433.30,220.24 L433.75,223.30 L434.22,226.46 L434.69,229.93 L435.16,233.52 L435.65,237.04 L436.16,240.31 L436.69,243.13 L437.25,245.32 L437.85,246.70 L438.00,246.91 L438.16,247.10 L438.31,247.25 L438.47,247.37 L438.62,247.46 L438.79,247.51 L438.97,247.52 L439.15,247.50 L439.69,247.06 L440.32,246.08 L441.01,244.76 L441.73,243.26 L442.47,241.78 L443.19,240.51 L443.86,239.62 L444.45,239.30 L444.89,239.48 L445.30,239.92 L445.69,240.58 L446.06,241.40 L446.41,242.33 L446.76,243.33 L447.10,244.34 L447.45,245.30 L447.94,246.77 L448.39,248.44 L448.82,250.24 L449.24,252.12 L449.66,254.00 L450.10,255.83 L450.56,257.53 L451.05,259.05 L451.44,260.13 L451.85,261.28 L452.26,262.44 L452.69,263.52 L453.12,264.48 L453.54,265.24 L453.95,265.74 L454.35,265.90 L454.78,265.58 L455.17,264.75 L455.54,263.55 L455.91,262.10 L456.29,260.52 L456.70,258.94 L457.15,257.49 L457.65,256.30 L458.13,255.37 L458.63,254.39 L459.16,253.40 L459.71,252.46 L460.28,251.62 L460.86,250.95 L461.45,250.49 L462.05,250.30 L462.68,250.52 L463.34,251.16 L464.03,252.08 L464.73,253.13 L465.41,254.17 L466.07,255.05 L466.69,255.65 L467.25,255.80 L467.85,255.42 L468.37,254.59 L468.84,253.42 L469.27,251.98 L469.67,250.37 L470.06,248.66 L470.45,246.94 L470.85,245.30 L471.42,242.95 L471.96,240.39 L472.47,237.66 L472.97,234.82 L473.46,231.92 L473.95,228.99 L474.44,226.11 L474.95,223.30 L475.45,220.49 L475.91,217.61 L476.37,214.69 L476.83,211.79 L477.32,208.96 L477.85,206.23 L478.44,203.66 L479.10,201.30 L479.64,199.57 L480.23,197.73 L480.85,195.88 L481.49,194.15 L482.14,192.62 L482.79,191.39 L483.43,190.59 L484.05,190.30 L484.65,190.62 L485.26,191.47 L485.87,192.76 L486.47,194.34 L487.06,196.10 L487.64,197.93 L488.21,199.70 L488.75,201.30 L489.32,202.96 L489.87,204.70 L490.40,206.48 L490.91,208.28 L491.41,210.07 L491.90,211.82 L492.38,213.49 L492.85,215.05 L493.21,216.15 L493.57,217.14 L493.92,218.07 L494.27,218.99 L494.61,219.92 L494.93,220.93 L495.25,222.04 L495.55,223.30 L496.03,225.96 L496.44,229.06 L496.81,232.48 L497.14,236.12 L497.47,239.88 L497.82,243.65 L498.20,247.33 L498.65,250.80 L499.13,254.29 L499.63,258.22 L500.16,262.30 L500.70,266.27 L501.27,269.86 L501.85,272.78 L502.45,274.77 L503.05,275.55 L503.33,275.47 L503.62,275.16 L503.92,274.68 L504.22,274.05 L504.52,273.32 L504.81,272.52 L505.09,271.70 L505.35,270.90 L505.77,269.26 L506.14,267.25 L506.46,264.99 L506.77,262.60 L507.08,260.22 L507.40,257.96 L507.77,255.94 L508.20,254.30 L508.46,253.50 L508.71,252.71 L508.97,251.95 L509.24,251.25 L509.52,250.63 L509.83,250.14 L510.17,249.78 L510.55,249.60 L510.96,249.68 L511.43,250.02 L511.93,250.54 L512.45,251.14 L512.97,251.74 L513.47,252.24 L513.94,252.56 L514.35,252.60 L514.86,252.17 L515.29,251.31 L515.65,250.12 L515.97,248.69 L516.27,247.10 L516.57,245.46 L516.89,243.87 L517.25,242.40 L517.72,240.59 L518.22,238.47 L518.74,236.20 L519.26,233.95 L519.78,231.90 L520.30,230.23 L520.79,229.10 L521.25,228.70 L521.68,229.10 L522.08,230.16 L522.46,231.75 L522.84,233.71 L523.21,235.90 L523.58,238.18 L523.96,240.39 L524.35,242.40 L524.83,244.89 L525.32,247.82 L525.82,250.97 L526.32,254.08 L526.83,256.92 L527.34,259.25 L527.84,260.82 L528.35,261.40 L528.88,260.74 L529.41,258.94 L529.94,256.30 L530.48,253.08 L531.01,249.57 L531.55,246.05 L532.10,242.80 L532.65,240.10 L533.09,238.28 L533.52,236.51 L533.95,234.79 L534.38,233.12 L534.83,231.50 L535.28,229.94 L535.76,228.44 L536.25,227.00 L536.65,225.89 L537.05,224.80 L537.46,223.74 L537.88,222.72 L538.31,221.75 L538.76,220.83 L539.24,219.98 L539.75,219.20 L540.17,218.61 L540.61,218.00 L541.08,217.40 L541.56,216.84 L542.03,216.37 L542.50,216.02 L542.94,215.81 L543.35,215.80 L543.90,216.15 L544.42,216.90 L544.90,217.97 L545.35,219.29 L545.77,220.80 L546.18,222.44 L546.57,224.13 L546.95,225.80 L547.55,229.04 L548.05,232.84 L548.47,237.05 L548.83,241.52 L549.19,246.10 L549.55,250.66 L549.96,255.04 L550.45,259.10 L550.93,262.73 L551.45,266.76 L551.98,270.90 L552.53,274.90 L553.09,278.47 L553.65,281.36 L554.21,283.30 L554.75,284.00 L555.26,283.37 L555.78,281.65 L556.30,279.07 L556.82,275.85 L557.33,272.25 L557.82,268.48 L558.30,264.79 L558.75,261.40 L559.25,257.25 L559.66,252.76 L560.03,248.06 L560.39,243.28 L560.77,238.53 L561.20,233.96 L561.71,229.67 L562.35,225.80 L562.88,223.11 L563.47,220.25 L564.10,217.39 L564.75,214.69 L565.42,212.31 L566.09,210.41 L566.73,209.15 L567.35,208.70 L567.93,209.22 L568.48,210.61 L569.03,212.68 L569.56,215.21 L570.11,218.00 L570.66,220.83 L571.24,223.50 L571.85,225.80 L572.46,227.90 L573.10,230.26 L573.77,232.71 L574.45,235.09 L575.12,237.22 L575.79,238.94 L576.43,240.09 L577.05,240.50 L577.63,240.09 L578.20,238.98 L578.75,237.32 L579.29,235.25 L579.82,232.92 L580.34,230.47 L580.85,228.05 L581.35,225.80 L581.99,222.86 L582.59,219.66 L583.18,216.29 L583.75,212.82 L584.31,209.35 L584.89,205.95 L585.48,202.70 L586.10,199.70 L586.61,197.29 L587.12,194.67 L587.63,192.00 L588.16,189.45 L588.69,187.18 L589.23,185.36 L589.79,184.15 L590.35,183.70 L590.97,184.20 L591.61,185.59 L592.26,187.67 L592.92,190.27 L593.59,193.20 L594.26,196.26 L594.93,199.27 L595.60,202.05 L596.46,205.50 L597.32,209.15 L598.19,212.96 L599.06,216.88 L599.93,220.86 L600.81,224.85 L601.68,228.81 L602.55,232.70" fill="none" stroke="#000" stroke-width="1.42" stroke-linejoin="round" stroke-linecap="butt"/>
<circle cx="227.40" cy="176.00" r="3.3" fill="#0000FF"/>
<circle cx="360.85" cy="184.00" r="3.3" fill="#0000FF"/>
<circle cx="590.60" cy="184.00" r="3.3" fill="#0000FF"/>
<line x1="227.18" x2="227.18" y1="169.4" y2="299.4" stroke="#FF0000" stroke-width="1.42"/>
<rect x="51.5" y="169.5" width="590" height="130" fill="none" stroke="#333333" stroke-width="0.72"/>
<rect x="642.5" y="169.5" width="22" height="130" fill="#CECECE" stroke="#333333" stroke-width="0.72"/>
<text x="0" y="0" transform="translate(649.0,235.40) rotate(90)" text-anchor="middle" font-size="11.73" fill="#1A1A1A">scale level 2</text>
<line x1="47.73" x2="51.5" y1="294.50" y2="294.50" stroke="#333333" stroke-width="1.2"/>
<text x="44.80" y="299.50" text-anchor="end" font-size="11.73" fill="#454545">-1.0</text>
<line x1="47.73" x2="51.5" y1="264.50" y2="264.50" stroke="#333333" stroke-width="1.2"/>
<text x="44.80" y="269.15" text-anchor="end" font-size="11.73" fill="#454545">-0.5</text>
<line x1="47.73" x2="51.5" y1="233.50" y2="233.50" stroke="#333333" stroke-width="1.2"/>
<text x="44.80" y="238.80" text-anchor="end" font-size="11.73" fill="#454545">0.0</text>
<line x1="47.73" x2="51.5" y1="203.50" y2="203.50" stroke="#333333" stroke-width="1.2"/>
<text x="44.80" y="208.45" text-anchor="end" font-size="11.73" fill="#454545">0.5</text>
<line x1="47.73" x2="51.5" y1="173.50" y2="173.50" stroke="#333333" stroke-width="1.2"/>
<text x="44.80" y="178.10" text-anchor="end" font-size="11.73" fill="#454545">1.0</text>
<line x1="51.4" x2="642.1" y1="417.77" y2="417.77" stroke="#EBEBEB" stroke-width="1.0"/>
<line x1="51.4" x2="642.1" y1="387.43" y2="387.43" stroke="#EBEBEB" stroke-width="1.0"/>
<line x1="51.4" x2="642.1" y1="357.07" y2="357.07" stroke="#EBEBEB" stroke-width="1.0"/>
<line x1="51.4" x2="642.1" y1="326.73" y2="326.73" stroke="#EBEBEB" stroke-width="1.0"/>
<line x1="59.76" x2="59.76" y1="307.4" y2="437.3" stroke="#EBEBEB" stroke-width="1.0"/>
<line x1="108.58" x2="108.58" y1="307.4" y2="437.3" stroke="#EBEBEB" stroke-width="1.0"/>
<line x1="157.41" x2="157.41" y1="307.4" y2="437.3" stroke="#EBEBEB" stroke-width="1.0"/>
<line x1="206.24" x2="206.24" y1="307.4" y2="437.3" stroke="#EBEBEB" stroke-width="1.0"/>
<line x1="255.06" x2="255.06" y1="307.4" y2="437.3" stroke="#EBEBEB" stroke-width="1.0"/>
<line x1="303.89" x2="303.89" y1="307.4" y2="437.3" stroke="#EBEBEB" stroke-width="1.0"/>
<line x1="352.72" x2="352.72" y1="307.4" y2="437.3" stroke="#EBEBEB" stroke-width="1.0"/>
<line x1="401.54" x2="401.54" y1="307.4" y2="437.3" stroke="#EBEBEB" stroke-width="1.0"/>
<line x1="450.37" x2="450.37" y1="307.4" y2="437.3" stroke="#EBEBEB" stroke-width="1.0"/>
<line x1="499.20" x2="499.20" y1="307.4" y2="437.3" stroke="#EBEBEB" stroke-width="1.0"/>
<line x1="548.03" x2="548.03" y1="307.4" y2="437.3" stroke="#EBEBEB" stroke-width="1.0"/>
<line x1="596.85" x2="596.85" y1="307.4" y2="437.3" stroke="#EBEBEB" stroke-width="1.0"/>
<line x1="51.4" x2="642.1" y1="432.95" y2="432.95" stroke="#E9E9E9" stroke-width="1.8"/>
<line x1="51.4" x2="642.1" y1="402.60" y2="402.60" stroke="#E9E9E9" stroke-width="1.8"/>
<line x1="51.4" x2="642.1" y1="372.25" y2="372.25" stroke="#E9E9E9" stroke-width="1.8"/>
<line x1="51.4" x2="642.1" y1="341.90" y2="341.90" stroke="#E9E9E9" stroke-width="1.8"/>
<line x1="51.4" x2="642.1" y1="311.55" y2="311.55" stroke="#E9E9E9" stroke-width="1.8"/>
<line x1="84.17" x2="84.17" y1="307.4" y2="437.3" stroke="#E9E9E9" stroke-width="1.8"/>
<line x1="133.00" x2="133.00" y1="307.4" y2="437.3" stroke="#E9E9E9" stroke-width="1.8"/>
<line x1="181.82" x2="181.82" y1="307.4" y2="437.3" stroke="#E9E9E9" stroke-width="1.8"/>
<line x1="230.65" x2="230.65" y1="307.4" y2="437.3" stroke="#E9E9E9" stroke-width="1.8"/>
<line x1="279.48" x2="279.48" y1="307.4" y2="437.3" stroke="#E9E9E9" stroke-width="1.8"/>
<line x1="328.30" x2="328.30" y1="307.4" y2="437.3" stroke="#E9E9E9" stroke-width="1.8"/>
<line x1="377.13" x2="377.13" y1="307.4" y2="437.3" stroke="#E9E9E9" stroke-width="1.8"/>
<line x1="425.96" x2="425.96" y1="307.4" y2="437.3" stroke="#E9E9E9" stroke-width="1.8"/>
<line x1="474.78" x2="474.78" y1="307.4" y2="437.3" stroke="#E9E9E9" stroke-width="1.8"/>
<line x1="523.61" x2="523.61" y1="307.4" y2="437.3" stroke="#E9E9E9" stroke-width="1.8"/>
<line x1="572.44" x2="572.44" y1="307.4" y2="437.3" stroke="#E9E9E9" stroke-width="1.8"/>
<line x1="621.27" x2="621.27" y1="307.4" y2="437.3" stroke="#E9E9E9" stroke-width="1.8"/>
<path d="M78.60,370.90 L79.23,369.64 L79.86,368.21 L80.50,366.71 L81.14,365.24 L81.77,363.91 L82.39,362.83 L82.98,362.11 L83.55,361.85 L84.00,362.02 L84.43,362.49 L84.85,363.20 L85.26,364.09 L85.66,365.09 L86.06,366.15 L86.45,367.21 L86.85,368.20 L87.38,369.55 L87.88,371.05 L88.38,372.63 L88.87,374.28 L89.36,375.93 L89.87,377.56 L90.40,379.11 L90.95,380.55 L91.44,381.67 L91.95,382.73 L92.47,383.76 L93.00,384.75 L93.53,385.74 L94.06,386.73 L94.59,387.75 L95.10,388.80 L95.63,389.96 L96.14,391.16 L96.64,392.37 L97.14,393.59 L97.64,394.81 L98.16,396.03 L98.69,397.22 L99.25,398.40 L99.82,399.64 L100.39,401.01 L100.97,402.43 L101.57,403.82 L102.19,405.08 L102.82,406.12 L103.47,406.85 L104.15,407.20 L104.71,407.14 L105.30,406.82 L105.91,406.30 L106.52,405.65 L107.13,404.94 L107.73,404.23 L108.31,403.60 L108.85,403.10 L109.22,402.80 L109.56,402.51 L109.88,402.23 L110.20,401.97 L110.53,401.72 L110.86,401.51 L111.22,401.34 L111.60,401.20 L112.07,401.14 L112.58,401.19 L113.12,401.31 L113.67,401.45 L114.22,401.57 L114.76,401.64 L115.27,401.61 L115.75,401.45 L116.36,400.97 L116.91,400.26 L117.42,399.38 L117.91,398.37 L118.38,397.31 L118.85,396.24 L119.34,395.22 L119.85,394.30 L120.34,393.45 L120.82,392.52 L121.30,391.56 L121.79,390.63 L122.29,389.78 L122.81,389.08 L123.36,388.56 L123.95,388.30 L124.52,388.36 L125.11,388.72 L125.73,389.26 L126.37,389.90 L127.01,390.54 L127.66,391.10 L128.31,391.46 L128.95,391.55 L129.78,391.14 L130.64,390.25 L131.51,389.04 L132.38,387.69 L133.23,386.35 L134.05,385.19 L134.83,384.39 L135.55,384.10 L136.06,384.26 L136.53,384.65 L136.98,385.21 L137.41,385.91 L137.83,386.67 L138.25,387.44 L138.67,388.17 L139.10,388.80 L139.51,389.38 L139.92,390.04 L140.33,390.72 L140.74,391.38 L141.15,391.97 L141.56,392.45 L141.98,392.78 L142.40,392.90 L142.84,392.79 L143.28,392.49 L143.73,392.02 L144.19,391.44 L144.64,390.79 L145.08,390.10 L145.52,389.42 L145.95,388.80 L146.41,388.10 L146.85,387.36 L147.28,386.57 L147.70,385.77 L148.12,384.97 L148.57,384.19 L149.04,383.45 L149.55,382.75 L150.09,382.16 L150.68,381.64 L151.30,381.17 L151.93,380.70 L152.56,380.21 L153.17,379.68 L153.74,379.07 L154.25,378.35 L154.88,377.06 L155.42,375.50 L155.88,373.77 L156.29,371.94 L156.67,370.10 L157.06,368.33 L157.48,366.70 L157.95,365.30 L158.30,364.42 L158.66,363.50 L159.03,362.58 L159.40,361.73 L159.77,360.98 L160.14,360.40 L160.50,360.02 L160.85,359.90 L161.29,360.21 L161.72,360.99 L162.15,362.14 L162.56,363.55 L162.97,365.10 L163.37,366.69 L163.77,368.21 L164.15,369.55 L164.51,370.79 L164.83,372.09 L165.14,373.41 L165.45,374.72 L165.76,375.99 L166.10,377.18 L166.48,378.26 L166.90,379.20 L167.20,379.77 L167.53,380.35 L167.86,380.90 L168.20,381.41 L168.56,381.85 L168.92,382.19 L169.28,382.42 L169.65,382.50 L170.07,382.38 L170.50,382.04 L170.94,381.54 L171.39,380.93 L171.84,380.25 L172.31,379.56 L172.77,378.91 L173.25,378.35 L173.74,377.81 L174.23,377.22 L174.72,376.61 L175.23,376.02 L175.74,375.48 L176.27,375.02 L176.80,374.68 L177.35,374.50 L177.87,374.52 L178.40,374.72 L178.94,375.04 L179.49,375.42 L180.05,375.81 L180.61,376.14 L181.18,376.35 L181.75,376.40 L182.45,376.17 L183.17,375.68 L183.89,375.02 L184.62,374.28 L185.35,373.55 L186.09,372.91 L186.82,372.47 L187.55,372.30 L188.29,372.50 L189.05,373.02 L189.82,373.74 L190.59,374.55 L191.33,375.34 L192.05,375.99 L192.73,376.38 L193.35,376.40 L194.15,375.70 L194.83,374.32 L195.41,372.44 L195.92,370.21 L196.40,367.81 L196.87,365.41 L197.38,363.19 L197.95,361.30 L198.46,359.85 L198.98,358.27 L199.52,356.67 L200.05,355.13 L200.59,353.77 L201.11,352.67 L201.62,351.95 L202.10,351.70 L202.56,351.98 L203.00,352.72 L203.43,353.83 L203.85,355.20 L204.26,356.73 L204.66,358.32 L205.04,359.88 L205.40,361.30 L205.79,362.94 L206.14,364.71 L206.47,366.56 L206.77,368.44 L207.08,370.28 L207.40,372.04 L207.75,373.64 L208.15,375.05 L208.42,375.88 L208.68,376.72 L208.94,377.54 L209.22,378.30 L209.51,378.98 L209.83,379.55 L210.17,379.96 L210.55,380.20 L210.86,380.25 L211.20,380.19 L211.56,380.05 L211.93,379.85 L212.30,379.61 L212.67,379.34 L213.02,379.06 L213.35,378.80 L213.70,378.51 L214.03,378.18 L214.35,377.84 L214.66,377.47 L214.97,377.08 L215.26,376.67 L215.56,376.24 L215.85,375.80 L216.20,375.24 L216.55,374.67 L216.89,374.07 L217.23,373.45 L217.55,372.78 L217.86,372.07 L218.16,371.32 L218.45,370.50 L218.87,369.09 L219.25,367.53 L219.61,365.83 L219.93,364.03 L220.25,362.16 L220.55,360.22 L220.85,358.26 L221.15,356.30 L221.52,353.83 L221.87,351.21 L222.20,348.50 L222.53,345.73 L222.85,342.96 L223.17,340.23 L223.48,337.60 L223.80,335.10 L224.06,333.07 L224.30,331.04 L224.54,329.03 L224.78,327.07 L225.02,325.19 L225.28,323.41 L225.55,321.77 L225.85,320.30 L226.05,319.42 L226.25,318.50 L226.46,317.59 L226.68,316.75 L226.90,316.01 L227.12,315.42 L227.34,315.04 L227.55,314.90 L227.77,315.05 L227.98,315.45 L228.21,316.06 L228.43,316.82 L228.64,317.68 L228.85,318.58 L229.06,319.47 L229.25,320.30 L229.48,321.34 L229.69,322.42 L229.88,323.55 L230.07,324.72 L230.25,325.94 L230.44,327.19 L230.63,328.48 L230.85,329.80 L231.15,331.59 L231.46,333.49 L231.78,335.47 L232.11,337.50 L232.45,339.56 L232.80,341.63 L233.17,343.69 L233.55,345.70 L233.94,347.72 L234.34,349.78 L234.76,351.85 L235.18,353.91 L235.62,355.94 L236.08,357.91 L236.55,359.81 L237.05,361.60 L237.46,362.98 L237.88,364.34 L238.31,365.67 L238.75,366.96 L239.21,368.19 L239.67,369.35 L240.15,370.42 L240.65,371.40 L241.01,372.07 L241.39,372.77 L241.78,373.46 L242.17,374.11 L242.56,374.66 L242.94,375.09 L243.31,375.35 L243.65,375.40 L244.14,374.98 L244.58,373.99 L244.98,372.57 L245.36,370.84 L245.72,368.93 L246.09,366.97 L246.46,365.08 L246.85,363.40 L247.27,361.73 L247.69,359.98 L248.10,358.20 L248.52,356.42 L248.95,354.68 L249.40,353.02 L249.86,351.48 L250.35,350.10 L250.70,349.19 L251.07,348.24 L251.45,347.31 L251.84,346.43 L252.23,345.66 L252.61,345.05 L252.99,344.65 L253.35,344.50 L253.65,344.61 L253.96,344.90 L254.26,345.36 L254.55,345.92 L254.84,346.57 L255.12,347.26 L255.39,347.95 L255.65,348.60 L255.97,349.52 L256.24,350.56 L256.49,351.68 L256.72,352.84 L256.96,353.99 L257.22,355.10 L257.51,356.11 L257.85,357.00 L258.13,357.60 L258.43,358.22 L258.74,358.83 L259.07,359.40 L259.40,359.89 L259.73,360.28 L260.05,360.53 L260.35,360.60 L260.68,360.42 L260.98,359.98 L261.27,359.34 L261.56,358.57 L261.85,357.71 L262.16,356.84 L262.49,356.02 L262.85,355.30 L263.27,354.56 L263.71,353.74 L264.18,352.88 L264.66,352.05 L265.16,351.30 L265.66,350.67 L266.16,350.22 L266.65,350.00 L267.01,350.01 L267.37,350.14 L267.73,350.37 L268.10,350.67 L268.46,351.00 L268.83,351.36 L269.19,351.70 L269.55,352.00 L269.92,352.33 L270.29,352.71 L270.66,353.12 L271.03,353.52 L271.40,353.89 L271.77,354.20 L272.16,354.41 L272.55,354.50 L272.99,354.40 L273.44,354.10 L273.91,353.68 L274.38,353.20 L274.84,352.72 L275.30,352.32 L275.74,352.06 L276.15,352.00 L276.57,352.16 L276.97,352.47 L277.36,352.91 L277.74,353.45 L278.09,354.06 L278.43,354.73 L278.75,355.42 L279.05,356.10 L279.44,357.17 L279.76,358.37 L280.03,359.66 L280.27,361.05 L280.48,362.49 L280.69,363.98 L280.91,365.49 L281.15,367.00 L281.45,368.95 L281.72,371.05 L281.98,373.25 L282.24,375.48 L282.53,377.69 L282.85,379.82 L283.21,381.81 L283.65,383.60 L284.01,384.87 L284.42,386.22 L284.85,387.56 L285.30,388.83 L285.75,389.94 L286.21,390.83 L286.64,391.41 L287.05,391.60 L287.50,391.24 L287.94,390.31 L288.36,388.94 L288.78,387.26 L289.18,385.43 L289.58,383.56 L289.97,381.81 L290.35,380.30 L290.67,379.06 L290.96,377.77 L291.24,376.47 L291.52,375.20 L291.80,374.00 L292.11,372.89 L292.46,371.91 L292.85,371.10 L293.10,370.70 L293.36,370.30 L293.64,369.93 L293.93,369.60 L294.21,369.33 L294.50,369.13 L294.78,369.01 L295.05,369.00 L295.42,369.20 L295.78,369.62 L296.14,370.24 L296.49,370.99 L296.84,371.84 L297.18,372.74 L297.52,373.64 L297.85,374.50 L298.29,375.67 L298.71,376.94 L299.12,378.29 L299.52,379.69 L299.92,381.11 L300.32,382.54 L300.73,383.95 L301.15,385.30 L301.56,386.60 L301.96,387.93 L302.36,389.27 L302.76,390.59 L303.18,391.87 L303.61,393.10 L304.06,394.25 L304.55,395.30 L304.93,396.06 L305.32,396.85 L305.73,397.63 L306.15,398.36 L306.57,399.00 L306.99,399.52 L307.42,399.86 L307.85,400.00 L308.26,399.92 L308.67,399.66 L309.10,399.26 L309.52,398.74 L309.94,398.14 L310.36,397.47 L310.76,396.79 L311.15,396.10 L311.74,394.91 L312.30,393.52 L312.82,391.98 L313.33,390.33 L313.83,388.63 L314.33,386.91 L314.83,385.22 L315.35,383.60 L315.86,381.99 L316.36,380.33 L316.86,378.64 L317.35,376.96 L317.86,375.33 L318.39,373.79 L318.95,372.36 L319.55,371.10 L319.99,370.27 L320.45,369.41 L320.92,368.58 L321.40,367.81 L321.88,367.13 L322.37,366.60 L322.86,366.24 L323.35,366.10 L323.81,366.20 L324.29,366.50 L324.77,366.96 L325.25,367.55 L325.72,368.21 L326.18,368.92 L326.63,369.63 L327.05,370.30 L327.52,371.15 L327.97,372.11 L328.38,373.15 L328.78,374.22 L329.17,375.26 L329.55,376.24 L329.95,377.10 L330.35,377.80 L330.58,378.14 L330.80,378.45 L331.01,378.73 L331.22,378.99 L331.45,379.21 L331.69,379.41 L331.95,379.57 L332.25,379.70 L332.68,379.76 L333.17,379.71 L333.69,379.57 L334.25,379.40 L334.81,379.24 L335.36,379.13 L335.88,379.10 L336.35,379.20 L336.83,379.48 L337.26,379.89 L337.67,380.41 L338.06,380.98 L338.44,381.60 L338.83,382.21 L339.23,382.79 L339.65,383.30 L340.09,383.79 L340.56,384.34 L341.04,384.90 L341.52,385.44 L342.00,385.91 L342.45,386.29 L342.87,386.53 L343.25,386.60 L343.51,386.53 L343.74,386.37 L343.95,386.14 L344.16,385.85 L344.35,385.51 L344.55,385.13 L344.74,384.72 L344.95,384.30 L345.38,383.29 L345.81,382.04 L346.23,380.61 L346.66,379.05 L347.08,377.41 L347.52,375.74 L347.98,374.09 L348.45,372.50 L349.00,370.79 L349.58,369.04 L350.17,367.26 L350.78,365.46 L351.39,363.67 L352.00,361.88 L352.59,360.12 L353.15,358.40 L353.65,356.82 L354.13,355.23 L354.61,353.65 L355.07,352.09 L355.54,350.56 L356.00,349.06 L356.47,347.60 L356.95,346.20 L357.35,344.98 L357.75,343.65 L358.15,342.30 L358.55,341.00 L358.95,339.83 L359.37,338.87 L359.80,338.20 L360.25,337.90 L360.54,337.92 L360.85,338.06 L361.17,338.32 L361.49,338.65 L361.80,339.04 L362.10,339.47 L362.39,339.89 L362.65,340.30 L362.94,340.79 L363.20,341.31 L363.43,341.85 L363.65,342.43 L363.85,343.06 L364.05,343.74 L364.25,344.49 L364.45,345.30 L364.84,347.22 L365.21,349.53 L365.55,352.13 L365.88,354.92 L366.21,357.79 L366.54,360.65 L366.88,363.39 L367.25,365.90 L367.57,367.94 L367.89,369.97 L368.20,371.99 L368.53,373.96 L368.87,375.86 L369.23,377.66 L369.62,379.35 L370.05,380.90 L370.35,381.93 L370.65,382.98 L370.96,384.02 L371.28,384.99 L371.62,385.86 L371.99,386.58 L372.40,387.11 L372.85,387.40 L373.22,387.43 L373.61,387.30 L374.02,387.06 L374.45,386.74 L374.89,386.38 L375.33,386.03 L375.79,385.72 L376.25,385.50 L376.74,385.37 L377.26,385.31 L377.80,385.29 L378.34,385.28 L378.87,385.25 L379.39,385.16 L379.89,384.99 L380.35,384.70 L380.99,383.98 L381.55,383.00 L382.05,381.82 L382.51,380.50 L382.95,379.10 L383.41,377.68 L383.90,376.31 L384.45,375.05 L385.06,373.73 L385.68,372.26 L386.32,370.74 L386.98,369.25 L387.67,367.88 L388.39,366.73 L389.15,365.87 L389.95,365.40 L390.58,365.39 L391.25,365.65 L391.95,366.11 L392.66,366.67 L393.38,367.25 L394.09,367.76 L394.78,368.10 L395.45,368.20 L396.11,367.99 L396.77,367.52 L397.43,366.89 L398.08,366.18 L398.71,365.50 L399.30,364.93 L399.85,364.57 L400.35,364.50 L400.77,364.71 L401.14,365.10 L401.47,365.65 L401.77,366.32 L402.06,367.07 L402.32,367.87 L402.58,368.69 L402.85,369.50 L403.24,370.77 L403.59,372.18 L403.91,373.70 L404.21,375.30 L404.49,376.96 L404.78,378.65 L405.06,380.34 L405.35,382.00 L405.67,383.82 L405.99,385.68 L406.29,387.58 L406.60,389.50 L406.91,391.42 L407.21,393.32 L407.53,395.18 L407.85,397.00 L408.14,398.67 L408.42,400.39 L408.70,402.11 L408.99,403.80 L409.29,405.42 L409.61,406.94 L409.96,408.31 L410.35,409.50 L410.60,410.15 L410.86,410.81 L411.13,411.45 L411.41,412.04 L411.70,412.55 L411.98,412.95 L412.27,413.21 L412.55,413.30 L412.86,413.18 L413.18,412.86 L413.51,412.37 L413.84,411.74 L414.16,411.02 L414.47,410.23 L414.77,409.41 L415.05,408.60 L415.50,407.01 L415.89,405.12 L416.23,403.02 L416.55,400.77 L416.85,398.47 L417.16,396.19 L417.49,394.00 L417.85,392.00 L418.16,390.39 L418.44,388.78 L418.71,387.18 L419.00,385.62 L419.32,384.13 L419.69,382.73 L420.13,381.45 L420.65,380.30 L421.09,379.52 L421.60,378.72 L422.14,377.95 L422.70,377.25 L423.27,376.64 L423.83,376.17 L424.36,375.88 L424.85,375.80 L425.27,375.94 L425.67,376.28 L426.05,376.77 L426.41,377.38 L426.77,378.07 L427.13,378.81 L427.49,379.57 L427.85,380.30 L428.38,381.45 L428.88,382.78 L429.38,384.23 L429.87,385.74 L430.38,387.24 L430.90,388.68 L431.46,389.99 L432.05,391.10 L432.49,391.82 L432.96,392.55 L433.44,393.27 L433.93,393.94 L434.42,394.51 L434.91,394.95 L435.39,395.22 L435.85,395.30 L436.34,395.12 L436.84,394.68 L437.32,394.05 L437.80,393.26 L438.26,392.36 L438.71,391.40 L439.14,390.43 L439.55,389.50 L440.05,388.18 L440.49,386.71 L440.88,385.13 L441.24,383.48 L441.60,381.80 L441.98,380.13 L442.39,378.52 L442.85,377.00 L443.30,375.65 L443.74,374.28 L444.20,372.91 L444.68,371.58 L445.19,370.30 L445.75,369.09 L446.36,367.99 L447.05,367.00 L447.68,366.24 L448.37,365.48 L449.11,364.74 L449.88,364.08 L450.65,363.51 L451.42,363.09 L452.16,362.84 L452.85,362.80 L453.53,363.01 L454.21,363.46 L454.87,364.09 L455.51,364.87 L456.13,365.75 L456.73,366.70 L457.30,367.66 L457.85,368.60 L458.48,369.87 L459.05,371.31 L459.56,372.87 L460.03,374.49 L460.50,376.10 L460.98,377.64 L461.49,379.06 L462.05,380.30 L462.47,381.12 L462.91,381.97 L463.35,382.80 L463.80,383.58 L464.26,384.26 L464.72,384.81 L465.18,385.16 L465.65,385.30 L466.13,385.17 L466.62,384.79 L467.11,384.23 L467.61,383.52 L468.10,382.72 L468.59,381.88 L469.08,381.06 L469.55,380.30 L470.08,379.45 L470.60,378.54 L471.11,377.60 L471.61,376.63 L472.11,375.65 L472.62,374.68 L473.13,373.72 L473.65,372.80 L474.16,371.95 L474.67,371.13 L475.18,370.33 L475.70,369.53 L476.22,368.72 L476.75,367.89 L477.29,367.02 L477.85,366.10 L478.59,364.70 L479.36,363.02 L480.15,361.20 L480.95,359.38 L481.76,357.71 L482.55,356.33 L483.32,355.38 L484.05,355.00 L484.56,355.14 L485.05,355.58 L485.55,356.23 L486.03,357.04 L486.50,357.92 L486.96,358.81 L487.41,359.62 L487.85,360.30 L488.18,360.76 L488.50,361.22 L488.82,361.68 L489.12,362.11 L489.42,362.53 L489.73,362.92 L490.03,363.28 L490.35,363.60 L490.59,363.81 L490.83,363.99 L491.07,364.16 L491.31,364.30 L491.56,364.44 L491.81,364.59 L492.07,364.74 L492.35,364.90 L492.72,365.11 L493.12,365.31 L493.54,365.50 L493.97,365.70 L494.40,365.92 L494.82,366.17 L495.23,366.46 L495.60,366.80 L496.04,367.31 L496.44,367.90 L496.81,368.56 L497.16,369.26 L497.51,369.99 L497.86,370.75 L498.24,371.53 L498.65,372.30 L499.20,373.40 L499.76,374.69 L500.33,376.08 L500.93,377.46 L501.55,378.75 L502.20,379.85 L502.88,380.67 L503.60,381.10 L504.17,381.09 L504.78,380.80 L505.42,380.33 L506.06,379.76 L506.71,379.19 L507.35,378.70 L507.97,378.39 L508.55,378.35 L509.19,378.67 L509.80,379.28 L510.38,380.11 L510.94,381.08 L511.50,382.10 L512.06,383.10 L512.64,383.99 L513.25,384.70 L513.74,385.14 L514.24,385.55 L514.75,385.92 L515.26,386.26 L515.78,386.57 L516.30,386.86 L516.82,387.14 L517.35,387.40 L517.86,387.60 L518.39,387.74 L518.93,387.85 L519.47,387.95 L520.00,388.06 L520.51,388.23 L521.00,388.46 L521.45,388.80 L522.02,389.49 L522.52,390.39 L522.96,391.44 L523.36,392.59 L523.75,393.78 L524.15,394.96 L524.57,396.07 L525.05,397.05 L525.50,397.89 L525.96,398.80 L526.43,399.72 L526.92,400.60 L527.41,401.38 L527.90,402.00 L528.40,402.41 L528.90,402.55 L529.51,402.32 L530.13,401.70 L530.76,400.79 L531.40,399.65 L532.03,398.36 L532.66,396.98 L533.26,395.61 L533.85,394.30 L534.61,392.53 L535.36,390.58 L536.09,388.51 L536.80,386.36 L537.49,384.16 L538.14,381.98 L538.76,379.84 L539.35,377.80 L539.82,375.99 L540.24,374.15 L540.62,372.31 L540.97,370.50 L541.34,368.74 L541.72,367.06 L542.15,365.49 L542.65,364.05 L543.05,363.03 L543.48,361.95 L543.94,360.88 L544.40,359.88 L544.88,359.00 L545.35,358.31 L545.81,357.85 L546.25,357.70 L546.71,357.94 L547.15,358.58 L547.59,359.51 L548.02,360.64 L548.45,361.89 L548.89,363.16 L549.34,364.36 L549.80,365.40 L550.27,366.39 L550.75,367.50 L551.24,368.67 L551.74,369.80 L552.23,370.81 L552.72,371.61 L553.19,372.14 L553.65,372.30 L554.26,371.80 L554.84,370.57 L555.40,368.77 L555.94,366.57 L556.47,364.14 L557.00,361.66 L557.52,359.29 L558.05,357.20 L558.55,355.24 L559.02,353.17 L559.46,351.07 L559.91,348.98 L560.38,346.97 L560.89,345.11 L561.48,343.45 L562.15,342.05 L562.62,341.29 L563.12,340.54 L563.66,339.84 L564.21,339.21 L564.76,338.67 L565.31,338.26 L565.84,337.99 L566.35,337.90 L566.78,337.98 L567.20,338.19 L567.62,338.52 L568.03,338.95 L568.43,339.44 L568.81,339.98 L569.19,340.54 L569.55,341.10 L570.05,341.99 L570.51,343.02 L570.94,344.15 L571.35,345.36 L571.74,346.61 L572.12,347.87 L572.49,349.11 L572.85,350.30 L573.19,351.45 L573.48,352.63 L573.76,353.81 L574.03,354.98 L574.30,356.15 L574.61,357.30 L574.95,358.42 L575.35,359.50 L575.79,360.58 L576.27,361.77 L576.79,363.00 L577.33,364.18 L577.88,365.23 L578.43,366.07 L578.95,366.62 L579.45,366.80 L580.01,366.47 L580.55,365.63 L581.08,364.38 L581.59,362.84 L582.10,361.11 L582.59,359.29 L583.08,357.48 L583.55,355.80 L584.13,353.61 L584.67,351.21 L585.17,348.66 L585.66,346.05 L586.16,343.46 L586.68,340.96 L587.24,338.63 L587.85,336.55 L588.32,335.11 L588.82,333.59 L589.34,332.07 L589.87,330.64 L590.41,329.39 L590.94,328.39 L591.45,327.73 L591.95,327.50 L592.43,327.73 L592.90,328.37 L593.36,329.33 L593.82,330.54 L594.27,331.95 L594.71,333.46 L595.14,335.02 L595.55,336.55 L596.24,339.53 L596.87,343.05 L597.47,346.97 L598.03,351.12 L598.58,355.33 L599.12,359.46 L599.67,363.34 L600.25,366.80 L600.68,369.16 L601.09,371.48 L601.50,373.72 L601.91,375.88 L602.33,377.94 L602.78,379.87 L603.27,381.67 L603.80,383.30 L604.18,384.34 L604.57,385.43 L604.99,386.49 L605.41,387.48 L605.84,388.35 L606.27,389.03 L606.69,389.46 L607.10,389.60 L607.63,389.23 L608.15,388.27 L608.66,386.87 L609.17,385.15 L609.68,383.25 L610.19,381.31 L610.72,379.44 L611.25,377.80 L611.81,376.26 L612.39,374.72 L612.97,373.17 L613.55,371.62 L614.14,370.06 L614.73,368.51 L615.32,366.95 L615.90,365.40" fill="none" stroke="#000" stroke-width="1.42" stroke-linejoin="round" stroke-linecap="butt"/>
<circle cx="227.45" cy="315.00" r="3.3" fill="#0000FF"/>
<line x1="227.18" x2="227.18" y1="307.4" y2="437.3" stroke="#FF0000" stroke-width="1.42"/>
<rect x="51.5" y="307.5" width="590" height="130" fill="none" stroke="#333333" stroke-width="0.72"/>
<rect x="642.5" y="307.5" width="22" height="130" fill="#CECECE" stroke="#333333" stroke-width="0.72"/>
<text x="0" y="0" transform="translate(649.0,373.35) rotate(90)" text-anchor="middle" font-size="11.73" fill="#1A1A1A">scale level 3</text>
<line x1="47.73" x2="51.5" y1="432.50" y2="432.50" stroke="#333333" stroke-width="1.2"/>
<text x="44.80" y="437.70" text-anchor="end" font-size="11.73" fill="#454545">-1.0</text>
<line x1="47.73" x2="51.5" y1="402.50" y2="402.50" stroke="#333333" stroke-width="1.2"/>
<text x="44.80" y="407.35" text-anchor="end" font-size="11.73" fill="#454545">-0.5</text>
<line x1="47.73" x2="51.5" y1="372.50" y2="372.50" stroke="#333333" stroke-width="1.2"/>
<text x="44.80" y="377.00" text-anchor="end" font-size="11.73" fill="#454545">0.0</text>
<line x1="47.73" x2="51.5" y1="341.50" y2="341.50" stroke="#333333" stroke-width="1.2"/>
<text x="44.80" y="346.65" text-anchor="end" font-size="11.73" fill="#454545">0.5</text>
<line x1="47.73" x2="51.5" y1="311.50" y2="311.50" stroke="#333333" stroke-width="1.2"/>
<text x="44.80" y="316.30" text-anchor="end" font-size="11.73" fill="#454545">1.0</text>
<line x1="83.92" x2="83.92" y1="437.5" y2="441.40" stroke="#333333" stroke-width="1.2"/>
<text x="83.92" y="453.40" text-anchor="middle" font-size="11.73" fill="#454545">-300</text>
<line x1="132.75" x2="132.75" y1="437.5" y2="441.40" stroke="#333333" stroke-width="1.2"/>
<text x="132.75" y="453.40" text-anchor="middle" font-size="11.73" fill="#454545">-200</text>
<line x1="181.57" x2="181.57" y1="437.5" y2="441.40" stroke="#333333" stroke-width="1.2"/>
<text x="181.57" y="453.40" text-anchor="middle" font-size="11.73" fill="#454545">-100</text>
<line x1="230.40" x2="230.40" y1="437.5" y2="441.40" stroke="#333333" stroke-width="1.2"/>
<text x="230.40" y="453.40" text-anchor="middle" font-size="11.73" fill="#454545">0</text>
<line x1="279.23" x2="279.23" y1="437.5" y2="441.40" stroke="#333333" stroke-width="1.2"/>
<text x="279.23" y="453.40" text-anchor="middle" font-size="11.73" fill="#454545">100</text>
<line x1="328.05" x2="328.05" y1="437.5" y2="441.40" stroke="#333333" stroke-width="1.2"/>
<text x="328.05" y="453.40" text-anchor="middle" font-size="11.73" fill="#454545">200</text>
<line x1="376.88" x2="376.88" y1="437.5" y2="441.40" stroke="#333333" stroke-width="1.2"/>
<text x="376.88" y="453.40" text-anchor="middle" font-size="11.73" fill="#454545">300</text>
<line x1="425.71" x2="425.71" y1="437.5" y2="441.40" stroke="#333333" stroke-width="1.2"/>
<text x="425.71" y="453.40" text-anchor="middle" font-size="11.73" fill="#454545">400</text>
<line x1="474.53" x2="474.53" y1="437.5" y2="441.40" stroke="#333333" stroke-width="1.2"/>
<text x="474.53" y="453.40" text-anchor="middle" font-size="11.73" fill="#454545">500</text>
<line x1="523.36" x2="523.36" y1="437.5" y2="441.40" stroke="#333333" stroke-width="1.2"/>
<text x="523.36" y="453.40" text-anchor="middle" font-size="11.73" fill="#454545">600</text>
<line x1="572.19" x2="572.19" y1="437.5" y2="441.40" stroke="#333333" stroke-width="1.2"/>
<text x="572.19" y="453.40" text-anchor="middle" font-size="11.73" fill="#454545">700</text>
<line x1="621.02" x2="621.02" y1="437.5" y2="441.40" stroke="#333333" stroke-width="1.2"/>
<text x="621.02" y="453.40" text-anchor="middle" font-size="11.73" fill="#454545">800</text>
<text x="346.75" y="470.1" text-anchor="middle" font-size="14.67" fill="#000">position</text>
<text transform="translate(17.9,234.3) rotate(-90)" x="0" y="0" text-anchor="middle" font-size="14.67" fill="#000">ccf</text>
<text x="51.3" y="19.9" font-size="17.6" fill="#000">ccf of segment 7 and y in 3 different scales</text>
</svg></body></html>
